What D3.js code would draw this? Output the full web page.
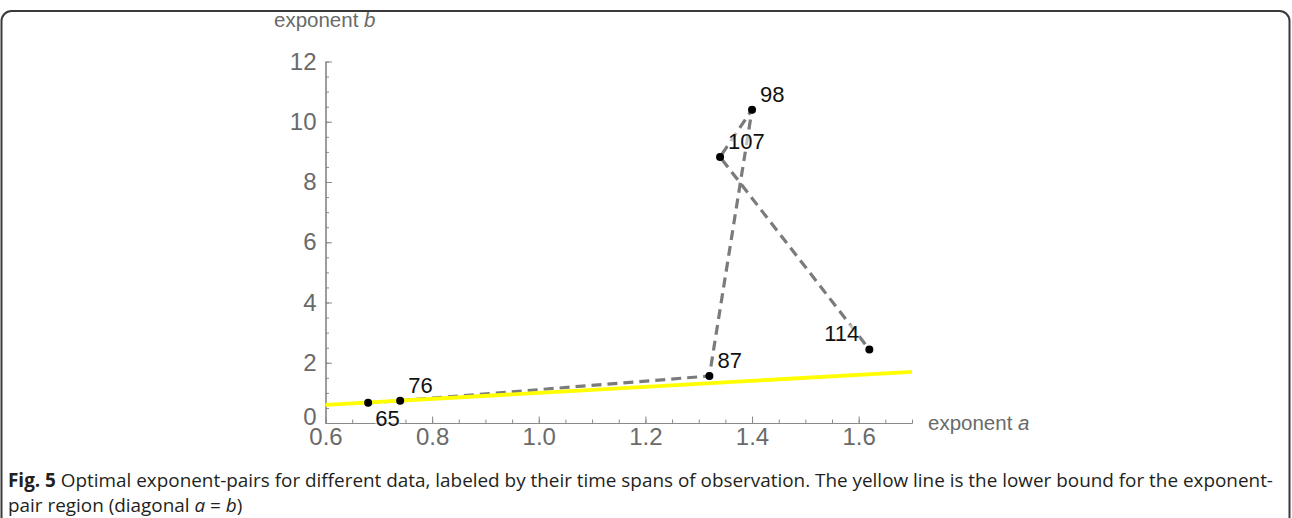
<!DOCTYPE html>
<html>
<head>
<meta charset="utf-8">
<script src="https://cdn.jsdelivr.net/npm/d3@7"></script>
<style>
  html, body { margin: 0; padding: 0; background: #fff; }
  svg { display: block; }
  .tick text { font-family: "Liberation Sans", Arial, sans-serif; }
</style>
</head>
<body>
<svg id="fig" width="1292" height="518"></svg>
<script>
// Time span of observation for each data set (point labels)
const spans = ["65", "76", "87", "98", "107", "114"];
// Optimal exponent a for each data set
const exponentA = [0.68, 0.74, 1.32, 1.40, 1.34, 1.62];
// Optimal exponent b for each data set
const exponentB = [0.67, 0.74, 1.56, 10.40, 8.83, 2.44];
// Where each label sits relative to its point
const labelSide = ["s", "ne", "ne", "ne", "ne", "nw"];
// Lower bound of the exponent-pair region: the diagonal a = b
const diagonal = [0.6, 1.7];
// Axis ticks
const xTicks = [0.6, 0.8, 1.0, 1.2, 1.4, 1.6];
const yTicks = [0, 2, 4, 6, 8, 10, 12];
const xMinor = d3.range(0.6, 1.7001, 0.05);
const yMinor = d3.range(0, 12.001, 0.5);

const svg = d3.select("#fig");

// rounded frame around the figure
svg.append("rect")
  .attr("x", 1.5).attr("y", 11).attr("width", 1288).attr("height", 620)
  .attr("rx", 10).attr("ry", 10)
  .attr("fill", "none").attr("stroke", "#3a3a3a").attr("stroke-width", 2);

const x = d3.scaleLinear().domain([0.6, 1.7]).range([325.5, 912]);
const y = d3.scaleLinear().domain([0, 12]).range([423, 61.5]);

const axisColor = "#8a8a8a";
const labelColor = "#6a6a6a";

// minor ticks
const xMinorAxis = svg.append("g").attr("transform", `translate(0,${y(0)})`)
  .call(d3.axisBottom(x).tickValues(xMinor).tickSize(-3.5).tickSizeOuter(0).tickFormat(""));
const yMinorAxis = svg.append("g").attr("transform", `translate(${x(0.6)},0)`)
  .call(d3.axisLeft(y).tickValues(yMinor).tickSize(-3.5).tickSizeOuter(0).tickFormat(""));

// major ticks with labels
const xAxis = svg.append("g").attr("transform", `translate(0,${y(0)})`)
  .call(d3.axisBottom(x).tickValues(xTicks).tickSize(-6.5).tickSizeOuter(0)
    .tickPadding(5).tickFormat(d3.format(".1f")));
const yAxis = svg.append("g").attr("transform", `translate(${x(0.6)},0)`)
  .call(d3.axisLeft(y).tickValues(yTicks).tickSize(-6.5).tickSizeOuter(0)
    .tickPadding(9).tickFormat(d3.format("d")));

[xMinorAxis, yMinorAxis, xAxis, yAxis].forEach(g => {
  g.selectAll("path.domain").attr("stroke", axisColor).attr("stroke-width", 1.2);
  g.selectAll(".tick line").attr("stroke", axisColor).attr("stroke-width", 1);
  g.selectAll(".tick text").attr("fill", labelColor).attr("font-size", 24);
});
// lift the "0" on the b axis clear of the a-axis labels
yAxis.selectAll(".tick text").filter(d => d === 0).attr("dy", "0.05em");

// axis titles
const axisTitle = (tx, ty, main, italic) => {
  const t = svg.append("text").attr("x", tx).attr("y", ty)
    .attr("font-family", "Liberation Sans, Arial, sans-serif")
    .attr("font-size", 20.5).attr("fill", labelColor);
  t.append("tspan").text(main + " ");
  t.append("tspan").attr("font-style", "italic").text(italic);
};
axisTitle(274, 27, "exponent", "b");
axisTitle(928, 430, "exponent", "a");

const pts = spans.map((s, i) => ({ label: s, a: exponentA[i], b: exponentB[i], side: labelSide[i] }));

// dashed path joining the data sets in order of time span
svg.append("path")
  .datum(pts)
  .attr("d", d3.line().x(d => x(d.a)).y(d => y(d.b)))
  .attr("fill", "none").attr("stroke", "#7b7b7b")
  .attr("stroke-width", 3.2).attr("stroke-dasharray", "10,6");

// diagonal a = b
svg.append("path")
  .datum(diagonal)
  .attr("d", d3.line().x(d => x(d)).y(d => y(d)))
  .attr("fill", "none").attr("stroke", "#ffff00").attr("stroke-width", 3.8);

// point labels with a faint white backing
const offsets = {
  ne: { dx: 8, dy: -8, anchor: "start" },
  nw: { dx: -10, dy: -8, anchor: "end" },
  s:  { dx: 7, dy: 23, anchor: "start" }
};
const labels = svg.append("g");
pts.forEach(p => {
  const o = offsets[p.side];
  const g = labels.append("g");
  const t = g.append("text")
    .attr("x", x(p.a) + o.dx).attr("y", y(p.b) + o.dy)
    .attr("text-anchor", o.anchor)
    .attr("font-family", "Liberation Sans, Arial, sans-serif")
    .attr("font-size", 22).attr("fill", "#111")
    .text(p.label);
  const bb = t.node().getBBox();
  g.insert("rect", "text")
    .attr("x", bb.x).attr("y", bb.y + 3).attr("width", bb.width).attr("height", bb.height - 5)
    .attr("fill", "#fff").attr("opacity", 0.55);
});

// data points
svg.append("g").selectAll("circle").data(pts).join("circle")
  .attr("cx", d => x(d.a)).attr("cy", d => y(d.b)).attr("r", 4)
  .attr("fill", "#000");

// caption
const cap = svg.append("g")
  .attr("font-family", "Open Sans, Noto Sans, sans-serif")
  .attr("font-size", 18.9).attr("fill", "#231f20");
const line1 = cap.append("text").attr("x", 8).attr("y", 487);
line1.append("tspan").attr("font-weight", "bold").text("Fig. 5");
line1.append("tspan").text(" Optimal exponent-pairs for different data, labeled by their time spans of observation. The yellow line is the lower bound for the exponent-");
const line2 = cap.append("text").attr("x", 8).attr("y", 512);
line2.append("tspan").text("pair region (diagonal ");
line2.append("tspan").attr("font-style", "italic").text("a");
line2.append("tspan").text(" = ");
line2.append("tspan").attr("font-style", "italic").text("b");
line2.append("tspan").text(")");
</script>
</body>
</html>
